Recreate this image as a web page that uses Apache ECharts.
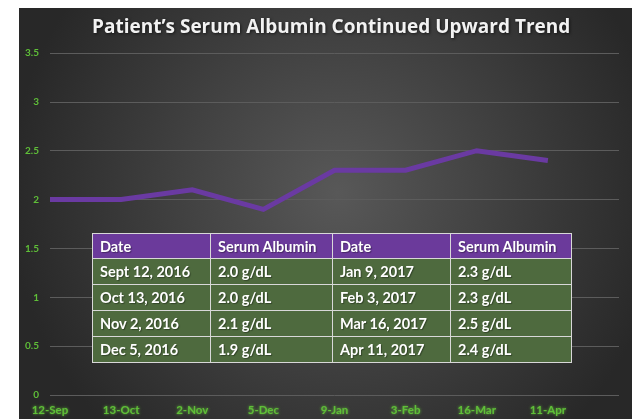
<!DOCTYPE html>
<html>
<head>
<meta charset="utf-8">
<script src="https://cdn.jsdelivr.net/npm/echarts@6/dist/echarts.min.js"></script>
<style>
  html, body { margin: 0; padding: 0; background: #fff; }
  #chart { position: absolute; left: 19px; top: 8px; width: 613px; height: 411px; }
  #tbl {
    position: absolute; left: 92px; top: 233px; width: 480px;
    border-collapse: collapse; font-family: Lato, 'Open Sans', sans-serif;
    font-weight: bold; font-size: 14.5px; color: #fff;
    text-shadow: 1px 1px 1px rgba(0,0,0,0.35);
  }
  #tbl td { border: 1.5px solid #d8d8d8; padding: 0 0 0 7px; height: 25px; white-space: nowrap; }
  #tbl tr.head td { background: #6b3a9b; height: 24px; }
  #tbl tr.body td { background: #4e6a3e; }
</style>
</head>
<body>
<div id="chart"></div>
<table id="tbl"></table>
<script>
// axis labels (x positions 0..7), last slot is empty space like the original
const dates = ['12-Sep', '13-Oct', '2-Nov', '5-Dec', '9-Jan', '3-Feb', '16-Mar', '11-Apr']
const fullDates = ['Sept 12, 2016', 'Oct 13, 2016', 'Nov 2, 2016', 'Dec 5, 2016',
  'Jan 9, 2017', 'Feb 3, 2017', 'Mar 16, 2017', 'Apr 11, 2017']
const albumin = [2.0, 2.0, 2.1, 1.9, 2.3, 2.3, 2.5, 2.4]
const headers = ['Date', 'Serum Albumin', 'Date', 'Serum Albumin']

// table: left half = first four visits, right half = last four
const tbl = document.getElementById('tbl')
let html = '<tr class="head">' + headers.map(h => '<td>' + h + '</td>').join('') + '</tr>'
for (let i = 0; i < 4; i++) {
  const j = i + 4
  html += '<tr class="body"><td style="width:110px">' + fullDates[i] + '</td><td style="width:114px">' +
    albumin[i].toFixed(1) + ' g/dL</td><td style="width:110px">' + fullDates[j] + '</td><td>' +
    albumin[j].toFixed(1) + ' g/dL</td></tr>'
}
tbl.innerHTML = html

const green = '#5fbf38'
let myChart = echarts.init(document.getElementById('chart'))
let option = {
  backgroundColor: {
    type: 'radial', x: 0.52, y: 0.45, r: 0.8,
    colorStops: [{ offset: 0, color: '#585858' }, { offset: 1, color: '#282828' }]
  },
  title: {
    text: 'Patient\u2019s Serum Albumin Continued Upward Trend',
    left: 68,
    top: 5,
    textStyle: {
      color: '#f2f2f2', fontFamily: 'Open Sans', fontWeight: 'bold', fontSize: 19,
      textShadowColor: 'rgba(0,0,0,0.6)', textShadowBlur: 3, textShadowOffsetX: 1, textShadowOffsetY: 1
    }
  },
  grid: { left: 31, right: 13, top: 45, bottom: 24 },
  xAxis: {
    type: 'value',
    min: 0,
    max: 8,
    interval: 1,
    splitLine: { show: false },
    axisLine: { show: false },
    axisTick: { show: false },
    axisLabel: {
      margin: 9,
      color: green,
      fontFamily: 'Lato',
      fontWeight: 'bold',
      fontSize: 11.5,
      textShadowColor: 'rgba(110,220,60,0.8)',
      textShadowBlur: 3,
      formatter: v => dates[v] || ''
    }
  },
  yAxis: {
    type: 'value',
    min: 0,
    max: 3.5,
    interval: 0.5,
    axisLine: { show: false },
    axisTick: { show: false },
    splitLine: { lineStyle: { color: '#5c5c5c', width: 1 } },
    axisLabel: {
      margin: 11,
      color: green,
      fontFamily: 'Lato',
      fontWeight: 'bold',
      fontSize: 10
    }
  },
  series: [{
    type: 'line',
    data: albumin.map((v, i) => [i, v]),
    symbol: 'none',
    lineStyle: { color: '#6a3aa2', width: 5, join: 'miter' }
  }]
}
myChart.setOption(option)
</script>
</body>
</html>
